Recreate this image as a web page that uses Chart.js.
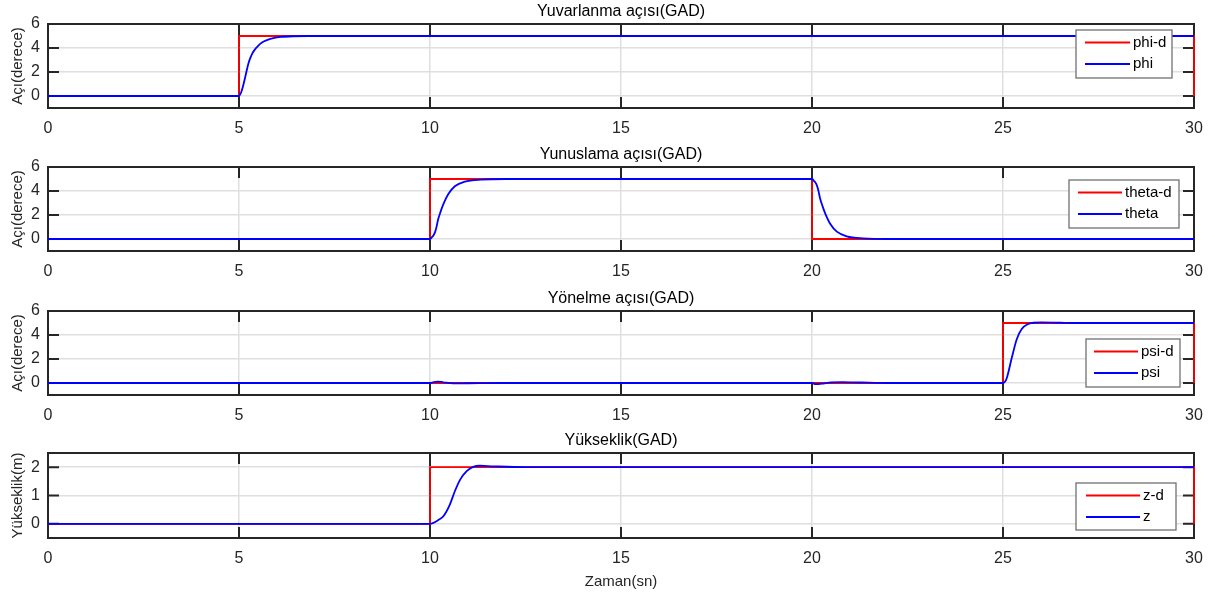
<!DOCTYPE html>
<html><head><meta charset="utf-8">
<script src="https://cdn.jsdelivr.net/npm/chart.js@4/dist/chart.umd.min.js"></script>
<style>
body{margin:0;background:#fff;width:1215px;height:598px;overflow:hidden;position:relative}
canvas{position:absolute;left:0}
</style>
</head><body>
<canvas id="c1" width="1215" height="143" style="top:0px"></canvas>
<canvas id="c2" width="1215" height="144" style="top:143px"></canvas>
<canvas id="c3" width="1215" height="142" style="top:287px"></canvas>
<canvas id="c4" width="1215" height="169" style="top:429px"></canvas>
<script>
// ---------- data ----------
const xTicks = [0, 5, 10, 15, 20, 25, 30];
const angleTicks = [0, 2, 4, 6];
const heightTicks = [0, 1, 2];

const titles = ['Yuvarlanma açısı(GAD)', 'Yunuslama açısı(GAD)', 'Yönelme açısı(GAD)', 'Yükseklik(GAD)'];
const yLabels = ['Açı(derece)', 'Açı(derece)', 'Açı(derece)', 'Yükseklik(m)'];
const xLabel = 'Zaman(sn)';
const legendNames = [['phi-d', 'phi'], ['theta-d', 'theta'], ['psi-d', 'psi'], ['z-d', 'z']];

// roll
const phiDesT = [0, 5, 5, 30, 30];
const phiDesV = [0, 0, 5, 5, 0];
const phiT = [0, 5, 5.05, 5.1, 5.15, 5.2, 5.25, 5.3, 5.35, 5.4, 5.5, 5.6, 5.75, 5.9, 6.1, 6.4, 6.8, 30];
const phiV = [0, 0, 0.25, 0.75, 1.4, 2.1, 2.75, 3.2, 3.55, 3.8, 4.17, 4.45, 4.68, 4.82, 4.92, 4.98, 5, 5];

// pitch
const thetaDesT = [0, 10, 10, 20, 20, 30];
const thetaDesV = [0, 0, 5, 5, 0, 0];
const thetaT = [0, 10, 10.05, 10.09, 10.13, 10.17, 10.21, 10.28, 10.35, 10.48, 10.65, 10.91, 11.34, 12, 20, 20.05, 20.09, 20.13, 20.17, 20.21, 20.28, 20.35, 20.48, 20.65, 20.91, 21.34, 22, 30];
const thetaV = [0, 0, 0.15, 0.3, 0.55, 1.0, 1.6, 2.3, 2.9, 3.75, 4.4, 4.78, 4.95, 5, 5, 4.85, 4.7, 4.45, 4.0, 3.4, 2.7, 2.1, 1.25, 0.61, 0.22, 0.05, 0, 0];

// yaw
const psiDesT = [0, 25, 25, 30, 30];
const psiDesV = [0, 0, 5, 5, 0];
const psiT = [0, 10, 10.1, 10.2, 10.35, 10.6, 11, 12, 20, 20.1, 20.25, 20.5, 20.8, 21.3, 22, 25, 25.05, 25.1, 25.23, 25.36, 25.49, 25.66, 25.79, 26, 26.5, 27, 30];
const psiV = [0, 0, 0.08, 0.12, 0.06, -0.03, -0.02, 0, 0, -0.1, -0.06, 0.05, 0.08, 0.04, 0, 0, 0.1, 0.42, 2.1, 3.65, 4.5, 4.92, 5.02, 5.05, 5.02, 5, 5];

// altitude
const zDesT = [0, 10, 10, 30, 30];
const zDesV = [0, 0, 2, 2, 0];
const zT = [0, 10, 10.09, 10.2, 10.35, 10.52, 10.65, 10.79, 10.96, 11.13, 11.31, 11.65, 12.5, 30];
const zV = [0, 0, 0.035, 0.12, 0.27, 0.68, 1.15, 1.56, 1.86, 2.01, 2.05, 2.03, 2, 2];

// ---------- helpers ----------
const pts = (T, V) => T.map((t, i) => ({x: t, y: V[i]}));
const FONT = "'Liberation Sans', Arial, Helvetica, sans-serif";
const DARK = '#262626';

const customPlugin = {
  id: 'custom',
  beforeDatasetsDraw(chart, args, o) {
    const ctx = chart.ctx, a = chart.chartArea;
    const xs = chart.scales.x, ys = chart.scales.y;
    ctx.save();
    ctx.strokeStyle = DARK; ctx.lineWidth = 2;
    const L = 11;
    ctx.beginPath();
    xs.ticks.forEach(t => {
      const px = xs.getPixelForValue(t.value);
      ctx.moveTo(px, a.top); ctx.lineTo(px, a.top + L);
      ctx.moveTo(px, a.bottom); ctx.lineTo(px, a.bottom - L);
    });
    ys.ticks.forEach(t => {
      const py = ys.getPixelForValue(t.value);
      ctx.moveTo(a.left, py); ctx.lineTo(a.left + L, py);
      ctx.moveTo(a.right, py); ctx.lineTo(a.right - L, py);
    });
    ctx.stroke();
    ctx.strokeRect(a.left, a.top, a.right - a.left, a.bottom - a.top);
    ctx.restore();
  },
  afterDraw(chart, args, o) {
    const ctx = chart.ctx, a = chart.chartArea;
    ctx.save();
    // title
    ctx.fillStyle = '#000';
    ctx.font = '16px ' + FONT;
    ctx.textAlign = 'center'; ctx.textBaseline = 'middle';
    ctx.fillText(o.title, (a.left + a.right) / 2, a.top - 12);
    // legend
    const lg = o.legend;
    ctx.fillStyle = '#fff';
    ctx.fillRect(lg.x, lg.y, lg.w, lg.h);
    ctx.strokeStyle = '#707070'; ctx.lineWidth = 1.3;
    ctx.strokeRect(lg.x, lg.y, lg.w, lg.h);
    const cols = ['#ff0000', '#0000ff'];
    o.names.forEach((n, i) => {
      const yy = lg.y + 12.5 + i * 21.5;
      ctx.strokeStyle = cols[i]; ctx.lineWidth = 2;
      ctx.beginPath(); ctx.moveTo(lg.x + lg.l0, yy); ctx.lineTo(lg.x + lg.l1, yy); ctx.stroke();
      ctx.fillStyle = '#000'; ctx.textAlign = 'left';
      ctx.font = '15px ' + FONT;
      ctx.fillText(n, lg.x + lg.l1 + 3, yy);
    });
    ctx.restore();
  }
};

function makeChart(id, idx, plotH, canvasH, yMin, yMax, yTickVals, desired, actual, darkSteps, legend, showXTitle) {
  const xAxisH = canvasH - 24 - plotH;
  return new Chart(document.getElementById(id), {
    type: 'line',
    data: {
      datasets: [
        {data: actual, borderColor: '#0000ff', borderWidth: 1.8, pointRadius: 0, cubicInterpolationMode: 'monotone', clip: 4, order: 0},
        {data: desired, borderColor: '#ff0000', borderWidth: 1.8, pointRadius: 0, tension: 0, clip: 4, order: 1}
      ]
    },
    options: {
      responsive: false, animation: false, devicePixelRatio: 1,
      layout: {padding: {top: 24, left: 0, right: 21, bottom: 0}},
      plugins: {
        legend: {display: false}, tooltip: {enabled: false},
        custom: {title: titles[idx], names: legendNames[idx], legend: legend}
      },
      scales: {
        x: {
          type: 'linear', min: 0, max: 30,
          afterBuildTicks: s => { s.ticks = xTicks.map(v => ({value: v})); },
          afterFit: s => { s.height = xAxisH; },
          grid: {
            drawTicks: false,
            color: c => darkSteps.includes(c.tick && c.tick.value) ? DARK : '#dfdfdf',
            lineWidth: c => darkSteps.includes(c.tick && c.tick.value) ? 2 : 1.5
          },
          border: {display: false},
          ticks: {padding: 11, color: DARK, font: {family: FONT, size: 16}, maxRotation: 0, autoSkip: false},
          title: {display: showXTitle, text: xLabel, color: DARK, font: {family: FONT, size: 15}, padding: {top: 0, bottom: 7}}
        },
        y: {
          type: 'linear', min: yMin, max: yMax,
          afterBuildTicks: s => { s.ticks = yTickVals.map(v => ({value: v})); },
          afterFit: s => { s.width = 48; },
          grid: {drawTicks: false, color: '#dfdfdf', lineWidth: 1.5},
          border: {display: false},
          ticks: {padding: 8, color: DARK, font: {family: FONT, size: 16}},
          title: {display: true, text: yLabels[idx], color: DARK, font: {family: FONT, size: 15}, padding: {top: 9, bottom: 0}}
        }
      }
    },
    plugins: [customPlugin]
  });
}

makeChart('c1', 0, 84, 143, -1, 6, angleTicks, pts(phiDesT, phiDesV), pts(phiT, phiV), [5],
  {x: 1076, y: 30, w: 96, h: 48, l0: 9, l1: 54}, false);
makeChart('c2', 1, 84, 144, -1, 6, angleTicks, pts(thetaDesT, thetaDesV), pts(thetaT, thetaV), [10, 20],
  {x: 1069, y: 37, w: 110, h: 48, l0: 9, l1: 53}, false);
makeChart('c3', 2, 84, 142, -1, 6, angleTicks, pts(psiDesT, psiDesV), pts(psiT, psiV), [25],
  {x: 1086, y: 52, w: 94, h: 48, l0: 8, l1: 52}, false);
makeChart('c4', 3, 85, 169, -0.5, 2.5, heightTicks, pts(zDesT, zDesV), pts(zT, zV), [10],
  {x: 1076, y: 54, w: 100, h: 47, l0: 10, l1: 64}, true);
</script>
</body></html>
